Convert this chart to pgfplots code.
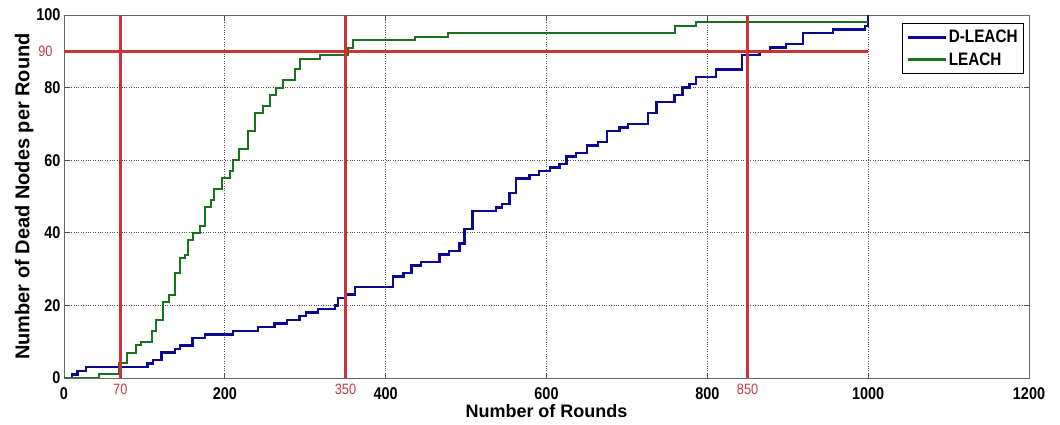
\documentclass[border=0pt]{standalone}
\usepackage{pgfplots}
\pgfplotsset{compat=1.18}
\usepackage{fontspec}
\setmainfont{Liberation Sans}
\newfontfamily\narrow[FakeStretch=0.85]{Liberation Sans}
\definecolor{mblue}{RGB}{10,10,145}
\definecolor{mgreen}{RGB}{25,115,30}
\definecolor{mred}{RGB}{205,50,55}
\definecolor{lred}{RGB}{195,60,70}
\begin{document}
\begin{tikzpicture}
\begin{axis}[
  name=ax,
  scale only axis,
  width=965pt, height=363pt,
  xmin=0, xmax=1200, ymin=0, ymax=100,
  xtick={0,200,400,600,800,1000,1200},
  ytick={0,20,40,60,80,100},
  grid=major,
  major grid style={dotted, black!70, line width=0.7pt},
  axis line style={black!60, line width=0.8pt},
  tick style={black!70, line width=0.8pt},
  major tick length=5pt,
  /pgf/number format/assume math mode=true,
  /pgf/number format/1000 sep={},
  tick label style={font=\fontsize{17}{17}\selectfont\narrow\bfseries},
  xticklabel style={yshift=-6pt},
  xlabel={Number of Rounds},
  ylabel={Number of Dead Nodes per Round},
  xlabel style={font=\fontsize{18}{18}\selectfont\bfseries, yshift=2pt},
  ylabel style={font=\fontsize{20}{20}\selectfont\bfseries, yshift=-4pt},
  extra x ticks={70,350,850},
  extra x tick style={grid=none, major tick length=0pt,
     xticklabel style={font=\fontsize{15}{15}\selectfont\narrow, text=lred, yshift=4pt}},
  extra y ticks={90},
  extra y tick style={grid=none, major tick length=0pt,
     yticklabel style={font=\fontsize{15}{15}\selectfont\narrow, text=lred, xshift=-8pt}},
  legend style={at={(1,1)}, anchor=north east, xshift=-5pt, yshift=-8pt,
     font=\fontsize{18}{18}\selectfont\narrow\bfseries, draw=black, line width=0.8pt,
     row sep=4pt, inner xsep=4pt, inner ysep=5pt},
  legend cell align=left,
  legend image code/.code={\draw[#1, line width=2.2pt] (0pt,0pt) -- (38pt,0pt);},
]
% D-LEACH
\addplot[const plot, mblue, line width=2.4pt] coordinates {
(0,0)(10,1)(17,2)(27,3)(104,4)(111,5)(121,7)(138,8)(144,9)(160,11)(175,12)
(210,13)(241,14)(262,15)(277,16)(293,17)(301,18)(316,19)(337,20)(341,22)
(351,23)(362,25)(409,28)(422,29)(432,31)(444,32)(467,34)(479,35)(492,37)
(498,41)(508,46)(537,47)(545,48)(554,51)(562,55)(579,56)(591,57)(604,58)
(616,59)(625,61)(637,62)(650,64)(664,65)(675,68)(691,69)(701,70)(726,73)
(737,76)(759,78)(769,80)(778,81)(786,83)(811,85)(843,89)(865,90)(878,91)
(898,92)(919,95)(956,96)(996,97)(1000,100)
};
\addlegendentry{D-LEACH}
% LEACH
\addplot[const plot, mgreen, line width=2pt] coordinates {
(0,0)(44,1)(69,4)(78,7)(90,9)(96,10)(109,13)(115,16)(123,21)(131,23)
(138,29)(144,33)(150,34)(154,38)(160,40)(169,42)(175,47)(183,49)(187,52)
(196,55)(206,57)(210,60)(218,63)(229,68)(237,73)(248,75)(256,78)(264,80)
(272,82)(287,85)(293,88)(318,89)(353,91)(359,93)(436,94)(477,95)(760,97)
(786,98)(1000,98)
};
\addlegendentry{LEACH}
\addplot[mred, line width=3pt, forget plot] coordinates {(70,0)(70,100)};
\addplot[mred, line width=3pt, forget plot] coordinates {(350,0)(350,100)};
\addplot[mred, line width=3pt, forget plot] coordinates {(850,0)(850,100)};
\addplot[mred, line width=3pt, forget plot] coordinates {(0,90)(1000,90)};
\end{axis}
\path ([shift={(-64pt,-47pt)}]ax.south west) rectangle ([shift={(31pt,15pt)}]ax.north east);
\end{tikzpicture}
\end{document}
